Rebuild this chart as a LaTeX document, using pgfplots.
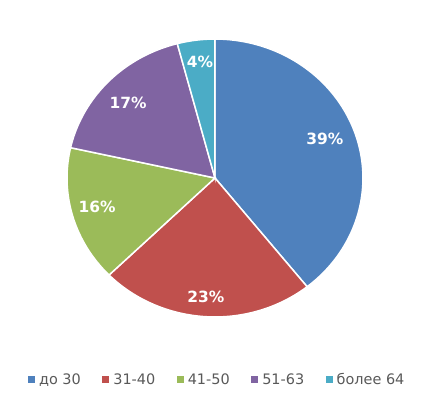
\documentclass[border=0pt]{standalone}
\usepackage{pgfplots}
\pgfplotsset{compat=1.18}
\usepackage{fontspec}
\setmainfont{DejaVu Sans}
\definecolor{cA}{HTML}{4F81BD}
\definecolor{cB}{HTML}{C0504D}
\definecolor{cC}{HTML}{9BBB59}
\definecolor{cD}{HTML}{8064A2}
\definecolor{cE}{HTML}{4BACC6}
\definecolor{legtext}{HTML}{595959}
% shares in percent (clockwise from 12 o'clock)
\def\vA{39.3}
\def\vB{23.4}
\def\vC{15.8}
\def\vD{17.4}
\def\vE{4.1}
\pgfmathsetmacro\aA{90}
\pgfmathsetmacro\aB{\aA-3.6*\vA}
\pgfmathsetmacro\aC{\aB-3.6*\vB}
\pgfmathsetmacro\aD{\aC-3.6*\vC}
\pgfmathsetmacro\aE{\aD-3.6*\vD}
\pgfmathsetmacro\aF{\aE-3.6*\vE}
\begin{document}
\begin{tikzpicture}
\begin{axis}[
  x=148bp, y=139bp,
  xmin=-1.453, xmax=1.514, ymin=-1.568, ymax=1.281,
  hide axis, clip=false,
  samples=120,
  legend image code/.code={\fill[#1,draw=none] (0bp,-3.5bp) rectangle (7bp,3.5bp);},
  legend style={draw=none, fill=none, at={(axis cs:0.022,-1.45)}, anchor=center,
    legend columns=-1,
    font=\fontsize{14.5}{17}\selectfont\color{legtext},
    nodes={inner xsep=4bp},
    /tikz/every even column/.append style={column sep=17.5bp}},
]
\addplot[fill=cA, draw=white, line width=1.5bp, domain=\aB:\aA] ({cos(x)},{sin(x)}) -- (axis cs:0,0) -- cycle;
\addlegendentry{до 30}
\addplot[fill=cB, draw=white, line width=1.5bp, domain=\aC:\aB] ({cos(x)},{sin(x)}) -- (axis cs:0,0) -- cycle;
\addlegendentry{31-40}
\addplot[fill=cC, draw=white, line width=1.5bp, domain=\aD:\aC] ({cos(x)},{sin(x)}) -- (axis cs:0,0) -- cycle;
\addlegendentry{41-50}
\addplot[fill=cD, draw=white, line width=1.5bp, domain=\aE:\aD] ({cos(x)},{sin(x)}) -- (axis cs:0,0) -- cycle;
\addlegendentry{51-63}
\addplot[fill=cE, draw=white, line width=1.5bp, domain=\aF:\aE] ({cos(x)},{sin(x)}) -- (axis cs:0,0) -- cycle;
\addlegendentry{более 64}
\begin{scope}[every node/.style={text=white, font=\fontsize{15.5}{18}\selectfont\bfseries}]
\node at (axis cs:0.743,0.281) {39\%};
\node at (axis cs:-0.061,-0.856) {23\%};
\node at (axis cs:-0.797,-0.209) {16\%};
\node at (axis cs:-0.588,0.54) {17\%};
\node at (axis cs:-0.101,0.835) {4\%};
\end{scope}
\end{axis}
\pgfresetboundingbox
\useasboundingbox (current axis.south west) rectangle (current axis.north east);
\end{tikzpicture}
\end{document}
